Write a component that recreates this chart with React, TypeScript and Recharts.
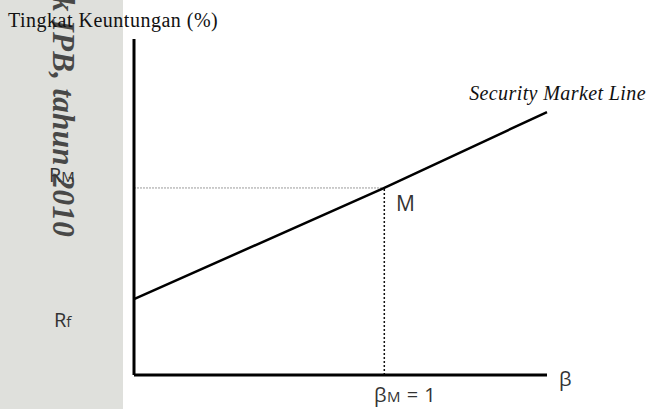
import React from 'react';
import { ComposedChart, Line, XAxis, YAxis, ReferenceLine } from 'recharts';

const betas = [0, 1, 1.65];
const returns = [3.39, 8.35, 11.74];
const betaMarket = 1;
const returnMarket = 8.35;
const xDomain: [number, number] = [0, 1.65];
const yDomain: [number, number] = [0, 15];

const data = betas.map((b, i) => ({ beta: b, r: returns[i] }));

const W = 647;
const H = 409;

export default function App() {
  return (
    <div style={{ position: 'absolute', left: 0, top: 0, width: W, height: H, background: '#fff', overflow: 'hidden' }}>
      <svg width={W} height={H} style={{ position: 'absolute', left: 0, top: 0 }}>
        <rect x={0} y={0} width={123} height={H} fill="#dfe0dc" />
        <text
          transform="translate(53,237) rotate(90)"
          textAnchor="end"
          fontFamily="Liberation Serif"
          fontStyle="italic"
          fontWeight="bold"
          fontSize={31}
          letterSpacing={0.3}
          fill="#2e2e2e"
          opacity={0.85}
        >
          k IPB, tahun 2010
        </text>
      </svg>
      <div style={{ position: 'absolute', left: 0, top: 0 }}>
        <ComposedChart width={W} height={H} data={data} margin={{ top: 39, right: 100, left: 74, bottom: 4 }}>
          <XAxis
            type="number"
            dataKey="beta"
            domain={xDomain}
            tick={false}
            tickLine={false}
            axisLine={{ stroke: '#000', strokeWidth: 3 }}
            height={30}
          />
          <YAxis
            type="number"
            domain={yDomain}
            tick={false}
            tickLine={false}
            axisLine={{ stroke: '#000', strokeWidth: 3 }}
            width={60}
          />
          <ReferenceLine
            segment={[{ x: 0, y: returnMarket }, { x: betaMarket, y: returnMarket }]}
            stroke="#9a9a9a"
            strokeWidth={1}
            strokeDasharray="2 1"
          />
          <ReferenceLine
            segment={[{ x: betaMarket, y: 0 }, { x: betaMarket, y: returnMarket }]}
            stroke="#111"
            strokeWidth={1.5}
            strokeDasharray="2 2"
          />
          <Line
            type="linear"
            dataKey="r"
            stroke="#000"
            strokeWidth={2.5}
            dot={false}
            isAnimationActive={false}
          />
        </ComposedChart>
      </div>
      <svg width={W} height={H} style={{ position: 'absolute', left: 0, top: 0, pointerEvents: 'none' }}>
        <text x={8} y={27} fontFamily="Liberation Serif" fontSize={20} letterSpacing={0.5} fill="#111">
          Tingkat Keuntungan (%)
        </text>
        <text x={646} y={100} textAnchor="end" fontFamily="Liberation Serif" fontStyle="italic" fontSize={20} letterSpacing={0.4} fill="#111">
          Security Market Line
        </text>
        <text x={49} y={182} fontFamily="Open Sans" fontSize={20} fill="#333">
          R<tspan fontSize={15}>M</tspan>
        </text>
        <text x={54} y={327} fontFamily="Open Sans" fontSize={20} fill="#333">
          R<tspan fontSize={15}>f</tspan>
        </text>
        <text x={396} y={211} fontFamily="Open Sans" fontSize={21} fill="#333">
          M
        </text>
        <text x={559} y={386} fontFamily="Open Sans" fontSize={20} fill="#333">
          β
        </text>
        <text x={374} y={402} fontFamily="Open Sans" fontSize={20} letterSpacing={0.5} fill="#333">
          β<tspan fontSize={15}>M</tspan> = 1
        </text>
      </svg>
    </div>
  );
}
